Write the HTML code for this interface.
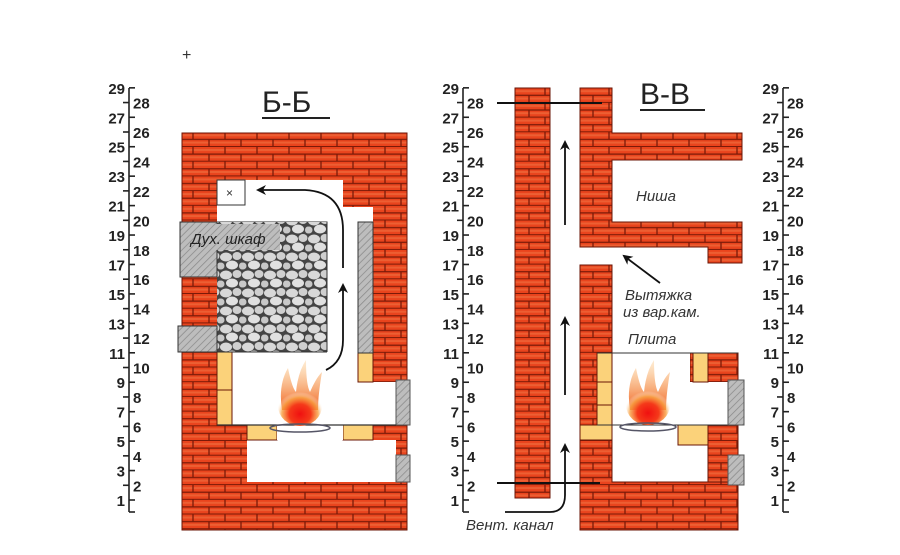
<!DOCTYPE html>
<html><head><meta charset="utf-8"><style>
html,body{margin:0;padding:0;background:#fff;}
svg{display:block;}
text{font-family:"Liberation Sans",sans-serif;}
</style></head><body>
<svg id="s" width="900" height="555" viewBox="0 0 900 555" xmlns="http://www.w3.org/2000/svg">
<defs>
<pattern id="br" width="32" height="14.7" patternUnits="userSpaceOnUse" x="0" y="0">
<rect width="32" height="14.7" fill="#e9441d"/>
<rect y="2" width="32" height="2" fill="#f07a4a" opacity=".5"/>
<rect y="9.3" width="32" height="2" fill="#f07a4a" opacity=".5"/>
<line x1="0" y1="7.1" x2="32" y2="7.1" stroke="#7a1a08" stroke-width="1.3"/>
<line x1="0" y1="14.4" x2="32" y2="14.4" stroke="#7a1a08" stroke-width="1.3"/>
<line x1="1" y1="0" x2="1" y2="7.1" stroke="#7a1a08" stroke-width="1.3"/>
<line x1="17" y1="7.1" x2="17" y2="14.7" stroke="#7a1a08" stroke-width="1.3"/>
</pattern>
<pattern id="hat" width="5" height="5" patternUnits="userSpaceOnUse" patternTransform="rotate(45)">
<rect width="5" height="5" fill="#bdbdbd"/><line x1="0" y1="0" x2="0" y2="5" stroke="#8a8a8a" stroke-width="1.5"/>
</pattern>
<pattern id="st" width="22" height="18" patternUnits="userSpaceOnUse">
<rect width="22" height="18" fill="#444"/>
<ellipse cx="6" cy="5" rx="6" ry="4.5" fill="#d8d8d8"/>
<ellipse cx="17" cy="4" rx="4.5" ry="4" fill="#cfcfcf"/>
<ellipse cx="12" cy="13" rx="6" ry="4.5" fill="#e0e0e0"/>
<ellipse cx="1" cy="14" rx="3.5" ry="3.5" fill="#c8c8c8"/>
<ellipse cx="22" cy="14" rx="3" ry="3.5" fill="#c8c8c8"/>
</pattern>
<radialGradient id="fire" cx="50%" cy="70%" r="55%">
<stop offset="0" stop-color="#f01010"/><stop offset=".45" stop-color="#f53a1a"/><stop offset=".75" stop-color="#f8a040" stop-opacity=".8"/><stop offset="1" stop-color="#fff" stop-opacity="0"/>
</radialGradient>
<linearGradient id="fl" x1="0" y1="1" x2="0" y2="0"><stop offset="0" stop-color="#f06020"/><stop offset="1" stop-color="#fbc070" stop-opacity=".3"/></linearGradient>
<marker id="ah" markerWidth="10" markerHeight="10" refX="8" refY="5" orient="auto" markerUnits="userSpaceOnUse"><path d="M0,0 L10,5 L0,10 L3,5z" fill="#111"/></marker>
</defs>
<g id="scales" stroke="#222" stroke-width="1.6" fill="#222"></g>

<!-- ===== Б-Б ===== -->
<text x="262" y="112" font-size="30" fill="#222">Б-Б</text>
<line x1="262" y1="118" x2="330" y2="118" stroke="#222" stroke-width="2"/>
<rect x="182" y="133" width="225" height="397" fill="url(#br)" stroke="#6a1506"/>
<!-- cavities -->
<path d="M217,180 H343 V207 H373 V382 H396 V425 H217 V180 Z" fill="#fff"/>
<rect x="247" y="440" width="149" height="42" fill="#fff"/>
<rect x="247" y="425" width="30" height="15" fill="#fbd27a" stroke="#6a1506"/>
<rect x="343" y="425" width="30" height="15" fill="#fbd27a" stroke="#6a1506"/>
<rect x="277" y="425" width="66" height="15" fill="#fff"/>
<rect x="217" y="352" width="15" height="73" fill="#fbd27a" stroke="#6a1506"/>
<line x1="217" y1="390" x2="232" y2="390" stroke="#6a1506"/>
<rect x="358" y="353" width="15" height="29" fill="#fbd27a" stroke="#6a1506"/>
<rect x="358" y="222" width="15" height="131" fill="url(#hat)" stroke="#333"/>
<path d="M217,180 H245 V205 H217 Z" fill="#fff" stroke="#333"/>
<text x="226" y="197" font-size="12" fill="#333">×</text>
<rect x="180" y="222" width="147" height="55" fill="url(#hat)" stroke="#333"/>
<rect x="217" y="222" width="110" height="130" fill="url(#st)"/>
<path d="M180,222 H217 V277 H180 Z" fill="url(#hat)" stroke="#333"/>
<rect x="190" y="224" width="90" height="26" fill="url(#hat)"/>
<text x="191" y="244" font-size="15" font-style="italic" fill="#222">Дух. шкаф</text>
<rect x="178" y="326" width="39" height="26" fill="url(#hat)" stroke="#333"/>
<line x1="217" y1="352" x2="327" y2="352" stroke="#333"/>
<line x1="327" y1="222" x2="327" y2="352" stroke="#333"/>
<rect x="396" y="380" width="14" height="45" fill="url(#hat)" stroke="#555"/>
<rect x="396" y="455" width="14" height="27" fill="url(#hat)" stroke="#555"/>
<line x1="217" y1="425" x2="396" y2="425" stroke="#333" stroke-width="1.2"/>
<!-- fire -->
<path d="M282,410 Q278,385 288,368 Q292,388 296,392 Q298,372 306,360 Q306,385 310,392 Q316,378 322,372 Q318,395 318,410 Z" fill="url(#fl)"/>
<ellipse cx="300" cy="406" rx="22" ry="20" fill="url(#fire)"/>
<ellipse cx="300" cy="428" rx="30" ry="4" fill="none" stroke="#556" stroke-width="1.5"/>
<path d="M326,370 Q343,362 343,340 V285" fill="none" stroke="#111" stroke-width="1.8" marker-end="url(#ah)"/>
<path d="M343,268 V230 Q343,192 305,190 H258" fill="none" stroke="#111" stroke-width="1.8" marker-end="url(#ah)"/>

<!-- ===== В-В ===== -->
<text x="640" y="104" font-size="30" fill="#222">В-В</text>
<line x1="640" y1="110" x2="705" y2="110" stroke="#222" stroke-width="2"/>
<g stroke="#6a1506" stroke-width="1">
<rect x="515" y="88" width="35" height="410" fill="url(#br)"/>
<path d="M580,88 H612 V133 H742 V160 H612 V222 H742 V263 H708 V247 H612 H580 Z" fill="url(#br)"/>
<path d="M580,265 H612 V353 H597 V425 H612 V440 H580 Z" fill="url(#br)"/>
<path d="M580,440 H612 V482 H738 V530 H580 Z" fill="url(#br)"/>
<path d="M690,353 H738 V382 H690 Z" fill="url(#br)"/>
<path d="M708,425 H738 V482 H708 Z" fill="url(#br)"/>
</g>
<path d="M612,353 H690 V382 H728 V425 H612 Z" fill="#fff"/>
<rect x="597" y="353" width="15" height="72" fill="#fbd27a" stroke="#6a1506"/>
<line x1="597" y1="382" x2="612" y2="382" stroke="#6a1506"/><line x1="597" y1="405" x2="612" y2="405" stroke="#6a1506"/>
<rect x="693" y="353" width="15" height="29" fill="#fbd27a" stroke="#6a1506"/>
<rect x="580" y="425" width="32" height="15" fill="#fbd27a" stroke="#6a1506"/>
<rect x="678" y="425" width="30" height="20" fill="#fbd27a" stroke="#6a1506"/>
<line x1="597" y1="353" x2="738" y2="353" stroke="#333"/>
<line x1="597" y1="425" x2="728" y2="425" stroke="#333"/>
<rect x="728" y="380" width="16" height="45" fill="url(#hat)" stroke="#555"/>
<rect x="728" y="455" width="16" height="30" fill="url(#hat)" stroke="#555"/>
<path d="M630,410 Q626,385 636,368 Q640,388 644,392 Q646,372 654,360 Q654,385 658,392 Q664,378 670,372 Q666,395 666,410 Z" fill="url(#fl)"/>
<ellipse cx="648" cy="405" rx="22" ry="20" fill="url(#fire)"/>
<ellipse cx="648" cy="427" rx="28" ry="4" fill="none" stroke="#556" stroke-width="1.5"/>
<line x1="497" y1="103" x2="602" y2="103" stroke="#111" stroke-width="2"/>
<line x1="497" y1="483" x2="600" y2="483" stroke="#111" stroke-width="2"/>
<path d="M565,225 V142" stroke="#111" stroke-width="1.8" marker-end="url(#ah)"/>
<path d="M565,395 V318" stroke="#111" stroke-width="1.8" marker-end="url(#ah)"/>
<path d="M505,512 H550 Q565,512 565,495 V445" fill="none" stroke="#111" stroke-width="1.8" marker-end="url(#ah)"/>
<path d="M660,283 L624,256" stroke="#111" stroke-width="1.8" marker-end="url(#ah)"/>
<text x="636" y="201" font-size="15" font-style="italic" fill="#333">Ниша</text>
<text x="625" y="300" font-size="15" font-style="italic" fill="#333">Вытяжка</text>
<text x="623" y="317" font-size="15" font-style="italic" fill="#333">из вар.кам.</text>
<text x="628" y="344" font-size="15" font-style="italic" fill="#333">Плита</text>
<text x="466" y="530" font-size="15" font-style="italic" fill="#333">Вент. канал</text>
<text x="182" y="60" font-size="16" fill="#333">+</text>
</svg>
<script>
(function(){
var g=document.getElementById('scales'),h='';
[129,463,783].forEach(function(x){
h+='<line x1="'+x+'" y1="88" x2="'+x+'" y2="512"/><line x1="'+x+'" y1="512" x2="'+(x+6)+'" y2="512"/>';
for(var k=1;k<=29;k++){var y=500-(k-1)*14.72;
if(k%2){h+='<line x1="'+x+'" y1="'+y+'" x2="'+(x+6)+'" y2="'+y+'"/><text x="'+(x-4)+'" y="'+(y+6)+'" text-anchor="end" font-size="15" font-weight="bold" stroke="none">'+k+'</text>';}
else{h+='<line x1="'+(x-6)+'" y1="'+y+'" x2="'+x+'" y2="'+y+'"/><text x="'+(x+4)+'" y="'+(y+6)+'" font-size="15" font-weight="bold" stroke="none">'+k+'</text>';}
}});
g.innerHTML=h;})();
</script>
</body></html>
